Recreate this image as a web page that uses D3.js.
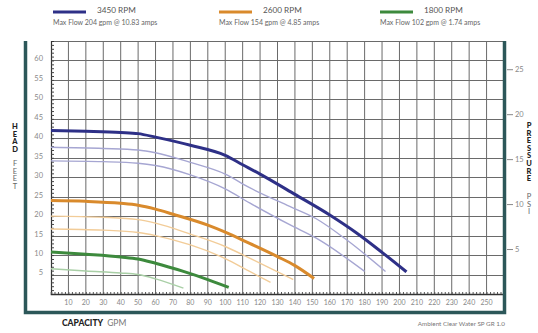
<!DOCTYPE html>
<html>
<head>
<meta charset="utf-8">
<script src="https://cdn.jsdelivr.net/npm/d3@7"></script>
<style>
  html, body { margin: 0; padding: 0; background: #fff; }
  svg { display: block; font-family: Lato, "Open Sans", sans-serif; }
</style>
</head>
<body>
<svg id="chart" width="538" height="333"></svg>
<script>
// Pump performance curves: head (feet) vs capacity (gpm)
const speeds = ["3450 RPM", "2600 RPM", "1800 RPM"];
const speedNotes = [
  "Max Flow 204 gpm @ 10.83 amps",
  "Max Flow 154 gpm @ 4.85 amps",
  "Max Flow 102 gpm @ 1.74 amps"
];

// Full-impeller curves, [gpm, feet]
const curve3450 = [[0,42],[20,41.8],[40,41.5],[50,41.2],[60,40.3],[80,38.2],[100,35.6],[110,33.2],[120,30.8],[140,25.6],[160,20.3],[175,15.8],[190,10.7],[204,5.7]];
const curve2600 = [[0,24],[20,23.8],[40,23.3],[50,22.8],[60,21.8],[70,20.5],[90,17.7],[100,15.9],[114,13],[130,9.6],[140,7.3],[151,4]];
const curve1800 = [[0,10.8],[20,10.2],[40,9.5],[50,9],[60,7.9],[76,5.8],[90,3.7],[102,1.7]];

// Trimmed-impeller curves, [gpm, feet]
const trim3450a = [[0,37.7],[30,37.4],[50,37],[60,36.3],[80,33.8],[100,30.8],[114,27.3],[137,22.5],[152,19.4],[170,13.8],[192,5.8]];
const trim3450b = [[0,34.2],[30,34],[50,33.6],[60,33],[80,30.6],[100,27],[114,23.4],[137,17.8],[152,14.4],[180,5.8]];
const trim2600a = [[0,20],[30,19.7],[50,19.1],[60,18.2],[80,15.4],[100,12.2],[114,9.2],[126,6.6],[139,3.7]];
const trim2600b = [[0,16.7],[30,16.4],[50,15.8],[60,15],[80,12.6],[100,9.1],[114,5.8],[126,3]];
const trim1800a = [[0,6.5],[20,5.9],[40,5.4],[50,5.0],[60,3.9],[76,1.5]];

const gpmTicks = d3.range(10, 260, 10);
const headTicks = d3.range(5, 65, 5);
const psiTicks = [5, 10, 15, 20, 25];

const mainColors = ["#2e3087", "#d98a2c", "#3d8a3d"];
const lightColors = ["#a6a6d2", "#f2cc98", "#a9cfa6"];

const svg = d3.select("#chart");
const plot = { left: 51, right: 504, top: 41, bottom: 294 };

const x = d3.scaleLinear().domain([0, 260]).range([plot.left, plot.right]);
const y = d3.scaleLinear().domain([0, 65]).range([plot.bottom, plot.top]);
const FT_PER_PSI = 2.31;

// Grid
const grid = svg.append("g");
grid.selectAll("line.v").data(gpmTicks).join("line")
  .attr("x1", d => x(d)).attr("x2", d => x(d))
  .attr("y1", plot.top).attr("y2", plot.bottom)
  .attr("stroke", "#6a6a6a").attr("stroke-width", 1);
grid.selectAll("line.h").data(headTicks.concat([65])).join("line")
  .attr("x1", plot.left).attr("x2", plot.right)
  .attr("y1", d => Math.round(y(d)) + 0.5).attr("y2", d => Math.round(y(d)) + 0.5)
  .attr("stroke", "#6a6a6a").attr("stroke-width", 1);

// Left axis with fine ticks every foot
const leftAxis = svg.append("g").attr("transform", `translate(${plot.left},0)`)
  .call(d3.axisRight(y).tickValues(d3.range(0, 65, 1)).tickSize(3).tickFormat(""));
leftAxis.select(".domain").attr("stroke", "#333").attr("stroke-width", 1.2);
leftAxis.selectAll(".tick line").attr("stroke", "#444");

svg.append("g").selectAll("text").data(headTicks).join("text")
  .attr("x", plot.left - 8).attr("y", d => y(d) - 1)
  .attr("text-anchor", "end").attr("dominant-baseline", "middle")
  .attr("font-size", 7.5).attr("fill", "#8a8a8a").text(d => d);

// Bottom axis with fine ticks every 2 gpm
const bottomAxis = svg.append("g").attr("transform", `translate(0,${plot.bottom})`)
  .call(d3.axisTop(x).tickValues(d3.range(0, 261, 2)).tickSize(2).tickFormat(""));
bottomAxis.select(".domain").attr("stroke", "#333").attr("stroke-width", 1.5);
bottomAxis.selectAll(".tick line").attr("stroke", "#555");

svg.append("g").selectAll("text").data(gpmTicks).join("text")
  .attr("x", d => x(d)).attr("y", plot.bottom + 9)
  .attr("text-anchor", "middle").attr("dominant-baseline", "middle")
  .attr("font-size", 7).attr("fill", "#888").text(d => d);

// Right pressure axis (psi)
const yPsi = d3.scaleLinear().domain([0, 65 / FT_PER_PSI]).range([plot.bottom, plot.top]);
const rightAxis = svg.append("g").attr("transform", `translate(${plot.right + 3},0)`)
  .call(d3.axisRight(yPsi).tickValues(psiTicks).tickSize(6).tickPadding(2));
rightAxis.select(".domain").remove();
rightAxis.selectAll(".tick line").attr("stroke", "#888");
rightAxis.selectAll(".tick text").attr("fill", "#888").attr("font-size", 7.5)
  .attr("font-family", "Lato, 'Open Sans', sans-serif");

// Curves
const line = d3.line().x(d => x(d[0])).y(d => y(d[1])).curve(d3.curveMonotoneX);
const trims = [[trim3450a, 0], [trim3450b, 0], [trim2600a, 1], [trim2600b, 1], [trim1800a, 2]];
svg.append("g").selectAll("path").data(trims).join("path")
  .attr("d", d => line(d[0])).attr("fill", "none")
  .attr("stroke", d => lightColors[d[1]]).attr("stroke-width", 1.4);
svg.append("g").selectAll("path").data([curve3450, curve2600, curve1800]).join("path")
  .attr("d", d => line(d)).attr("fill", "none")
  .attr("stroke", (d, i) => mainColors[i]).attr("stroke-width", 3);

// Frame
const frameColor = "#2c5759";
svg.append("path")
  .attr("d", `M25.5,${plot.top} V312.5 H${plot.right + 0.5} V${plot.top}`)
  .attr("fill", "none").attr("stroke", frameColor).attr("stroke-width", 3.5);

// Vertical axis titles, stacked letters
function stacked(letters, cx, y0, step, weight, color) {
  svg.append("g").selectAll("text").data(letters.split("")).join("text")
    .attr("x", cx).attr("y", (d, i) => y0 + i * step)
    .attr("text-anchor", "middle").attr("font-size", 7.5)
    .attr("font-weight", weight).attr("fill", color).text(d => d);
}
stacked("HEAD", 15, 129, 7.6, 900, "#222");
stacked("FEET", 15, 166, 7.6, 400, "#666");
stacked("PRESSURE", 529, 128, 7.6, 900, "#222");
stacked("PSI", 529, 199, 7.6, 400, "#666");

// Bottom titles
const cap = svg.append("text").attr("x", 62).attr("y", 326).attr("font-size", 8.5);
cap.append("tspan").attr("font-weight", 900).attr("fill", "#222").text("CAPACITY");
cap.append("tspan").attr("fill", "#777").attr("dx", 4).text("GPM");

svg.append("text").attr("x", 505).attr("y", 326).attr("text-anchor", "end")
  .attr("font-size", 6.3).attr("fill", "#777").text("Ambient Clear Water SP GR 1.0");

// Legend
const legendX = [53, 219, 380];
const legend = svg.append("g").selectAll("g").data(speeds).join("g")
  .attr("transform", (d, i) => `translate(${legendX[i]},0)`);
legend.append("line").attr("x1", 0).attr("x2", 33).attr("y1", 12).attr("y2", 12)
  .attr("stroke", (d, i) => mainColors[i]).attr("stroke-width", 3);
legend.append("text").attr("x", 44).attr("y", 12.5).attr("font-size", 8.2)
  .attr("fill", "#555").text(d => d);
legend.append("text").attr("x", 0).attr("y", 25).attr("font-size", 7)
  .attr("fill", "#666").text((d, i) => speedNotes[i]);
</script>
</body>
</html>
